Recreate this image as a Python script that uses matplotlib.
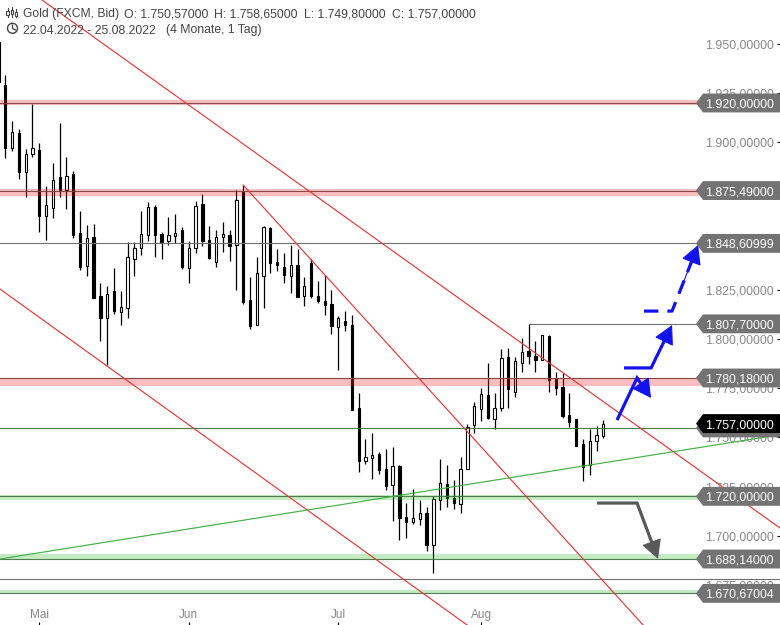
import matplotlib
matplotlib.use("Agg")
import matplotlib.pyplot as plt
from matplotlib.patches import Polygon, Circle, Rectangle
from matplotlib.transforms import Affine2D, blended_transform_factory
from matplotlib.lines import Line2D

opens = [1951.0,1929.1,1897.1,1904.7,1884.9,1894.1,1896.1,1862.6,1866.6,1882.4,
         1875.8,1883.9,1853.9,1837.1,1851.9,1821.9,1810.7,1824.4,1813.7,1815.8,
         1840.7,1846.3,1852.9,1867.1,1853.4,1849.8,1852.4,1855.4,1836.1,1846.3,
         1868.6,1850.3,1839.2,1851.9,1852.9,1847.8,1874.7,1819.8,1807.1,1832.0,
         1856.4,1839.2,1836.6,1832.0,1837.6,1821.9,1838.6,1821.9,1819.3,1817.8,
         1806.1,1809.2,1807.1,1764.9,1738.0,1739.5,1741.5,1733.9,1725.8,1735.4,
         1709.5,1707.0,1708.5,1711.5,1695.3,1718.2,1726.3,1719.2,1716.1,1733.9,
         1756.3,1764.4,1771.5,1759.3,1764.9,1790.8,1773.1,1787.8,1793.9,1791.4,
         1789.3,1801.5,1779.7,1775.6,1761.4,1759.3,1746.6,1735.9,1748.1,1750.57]
closes = [1930.7,1897.1,1905.3,1884.9,1894.1,1897.1,1862.6,1868.1,1880.8,1875.8,
          1882.9,1852.9,1836.6,1851.4,1820.9,1810.7,1822.9,1814.3,1816.3,1841.7,
          1846.3,1853.4,1867.1,1852.9,1848.8,1852.9,1853.9,1836.6,1846.3,1867.6,
          1849.8,1841.2,1851.9,1853.4,1847.3,1870.7,1818.8,1806.6,1833.6,1857.0,
          1838.6,1837.6,1832.6,1837.6,1821.4,1826.9,1821.9,1819.3,1817.3,1806.6,
          1810.7,1807.1,1763.9,1738.0,1740.0,1741.0,1733.4,1725.3,1735.4,1709.0,
          1707.0,1709.0,1711.5,1695.3,1718.7,1726.8,1719.2,1716.6,1733.9,1755.3,
          1765.9,1772.0,1759.8,1764.9,1790.3,1774.6,1788.8,1793.4,1791.4,1789.3,
          1802.0,1779.2,1775.1,1760.9,1757.8,1745.6,1734.9,1748.1,1751.2,1757.0]
highs = [1951.0,1934.2,1910.9,1906.8,1896.6,1919.5,1899.7,1877.8,1889.5,1909.8,
         1892.5,1885.4,1865.1,1858.0,1858.5,1828.5,1826.9,1836.1,1824.4,1849.3,
         1849.3,1865.1,1869.7,1868.1,1854.4,1862.0,1863.6,1857.0,1849.8,1870.2,
         1873.7,1857.5,1855.4,1859.5,1855.4,1875.8,1878.3,1831.5,1841.7,1857.5,
         1857.0,1845.8,1843.7,1847.8,1845.8,1831.5,1840.7,1829.5,1832.6,1824.9,
         1811.7,1814.3,1812.2,1772.6,1749.2,1752.2,1742.6,1744.1,1745.1,1735.9,
         1716.6,1723.7,1718.2,1714.6,1720.2,1739.0,1735.9,1728.3,1740.0,1756.8,
         1767.9,1775.1,1787.8,1772.6,1794.9,1795.4,1790.8,1800.5,1807.6,1799.0,
         1802.0,1802.0,1783.2,1782.7,1772.6,1759.3,1749.2,1754.2,1755.8,1758.65]
lows = [1930.7,1892.0,1895.6,1881.4,1872.2,1892.5,1854.4,1850.3,1861.5,1872.2,
        1866.1,1851.4,1835.1,1832.0,1820.9,1799.0,1786.8,1812.7,1807.1,1810.7,
        1832.0,1842.7,1849.8,1841.7,1840.7,1847.8,1848.8,1835.6,1828.5,1843.7,
        1847.3,1840.7,1836.6,1844.2,1839.7,1824.9,1817.8,1805.1,1807.1,1815.8,
        1833.6,1834.6,1828.5,1823.4,1821.4,1816.8,1820.9,1818.3,1812.2,1802.6,
        1784.2,1804.1,1763.9,1732.4,1736.5,1728.8,1731.4,1723.2,1707.5,1697.8,
        1698.8,1706.0,1705.5,1692.2,1681.0,1713.1,1714.6,1713.6,1711.5,1733.9,
        1752.2,1758.3,1759.3,1754.2,1763.4,1764.9,1770.5,1783.2,1787.3,1783.2,
        1789.3,1773.1,1771.5,1759.8,1755.3,1745.6,1727.8,1730.9,1743.1,1749.80]

month_positions = [6, 28, 50, 71]
month_labels = ["Mai", "Jun", "Jul", "Aug"]

price_ticks = [1950, 1925, 1900, 1875, 1850, 1825, 1800, 1775, 1750, 1725, 1700, 1675]
price_labels = ["1.950,00000", "1.925,00000", "1.900,00000", "1.875,00000", "1.850,00000",
                "1.825,00000", "1.800,00000", "1.775,00000", "1.750,00000", "1.725,00000",
                "1.700,00000", "1.675,00000"]

red_levels = [(1920.0, 1919.0, 1921.5), (1875.49, 1872.5, 1876.5), (1780.18, 1776.0, 1780.18)]
green_levels = [(1755.0, 1754.0, 1755.0), (1720.0, 1718.0, 1720.5),
                (1688.14, 1688.14, 1690.8), (1670.67, 1670.67, 1672.2)]
grey_levels = [1848.60999, 1677.8]
resistance_level = 1807.7
resistance_start = 78

trend_red = [((6.4, 1972.37), (115.0, 1703.9)),
             ((36.0, 1878.3), (94.85, 1654.6)),
             ((0.22, 1825.4), (68.95, 1654.6))]
trend_green = ((0.22, 1688.15), (113.83, 1750.7))

blue_down = [(91.02, 1758.8), (93.96, 1780.2), (96.03, 1770.0)]
blue_up = [(92.05, 1785.3), (96.03, 1785.3), (99.12, 1807.1)]
blue_dash = [(94.99, 1814.2), (99.12, 1814.2), (102.95, 1847.8)]
grey_down = [(88.08, 1716.6), (93.96, 1716.6), (97.05, 1688.2)]

badge_values = [1920.0, 1875.49, 1848.60999, 1807.7, 1780.18, 1754.8, 1720.0, 1688.14, 1670.67004]
badge_texts = ["1.920,00000", "1.875,49000", "1.848,60999", "1.807,70000", "1.780,18000", "",
               "1.720,00000", "1.688,14000", "1.670,67004"]
current_value = 1757.0
current_text = "1.757,00000"

plt.rcParams["font.family"] = ["Liberation Sans", "DejaVu Sans"]
fig = plt.figure(figsize=(7.8, 6.25), dpi=100)
ax = fig.add_axes([0, 0, 1, 1])
ax.set_xlim(0.22, 115.0)
ax.set_ylim(1654.59, 1972.37)
for s in ax.spines.values():
    s.set_visible(False)

xs = list(range(len(opens)))
ax.vlines(xs, lows, highs, color="black", lw=0.9, zorder=2)
for i, (o, c) in enumerate(zip(opens, closes)):
    down = c < o
    ax.bar(i, abs(c - o), bottom=min(o, c), width=0.34,
           facecolor="black" if down else "white", edgecolor="black", lw=0.8, zorder=2.2)

for lvl, lo, hi in red_levels:
    ax.axhspan(lo, hi, color="#ee2222", alpha=0.29, lw=0, zorder=3)
    ax.axhline(lvl, color="#7a3c3c", lw=0.8, alpha=0.9, zorder=3.1)
for lvl, lo, hi in green_levels:
    ax.axhspan(lo, hi, color="#33c033", alpha=0.29, lw=0, zorder=3)
    ax.axhline(lvl, color="#3f6f3f", lw=0.8, alpha=0.9, zorder=3.1)
for lvl in grey_levels:
    ax.axhline(lvl, color="#707070", lw=0.8, zorder=3.1)
ax.plot([resistance_start, 115], [resistance_level] * 2, color="#707070", lw=0.8, zorder=3.1)

for a, b in trend_red:
    ax.plot([a[0], b[0]], [a[1], b[1]], color="#e23a3a", lw=0.85, zorder=3.5)
ax.plot([trend_green[0][0], trend_green[1][0]], [trend_green[0][1], trend_green[1][1]],
        color="#45b045", lw=0.85, zorder=3.5)

def arrow(points, color, dashed=False):
    ls = (0, (4.5, 2.8)) if dashed else "-"
    (x0, y0), (x1, y1), (x2, y2) = points
    ax.plot([x0, x1, x1 + 0.8 * (x2 - x1)], [y0, y1, y1 + 0.8 * (y2 - y1)], color=color, lw=2.3, ls=ls,
            solid_capstyle="butt", solid_joinstyle="miter", dash_capstyle="butt", zorder=4)
    tail = (x2 - 0.6 * (x2 - x1), y2 - 0.6 * (y2 - y1))
    ax.annotate("", xy=points[2], xytext=tail, zorder=4,
                arrowprops=dict(arrowstyle="-|>,head_length=0.5,head_width=0.27", color=color, lw=0.8,
                                mutation_scale=24, shrinkA=0, shrinkB=0))

arrow(blue_down, "#1212ee")
arrow(blue_up, "#1212ee")
arrow(blue_dash, "#1212ee", True)
arrow(grey_down, "#595959")

ax.yaxis.tick_right()
ax.set_yticks(price_ticks, price_labels)
ax.tick_params(axis="y", direction="in", length=2.2, width=0.8, pad=-4.3, labelsize=8.95,
               labelcolor="#8a8a8a", color="black")
for t in ax.get_yticklabels():
    t.set_ha("right")
    t.set_va("center_baseline")
ax.set_xticks(month_positions, month_labels)
ax.tick_params(axis="x", direction="in", length=2.2, width=0.8, pad=-11.5, labelsize=8.5,
               labelcolor="#888888", color="black")

bt = blended_transform_factory(ax.transAxes, ax.transData)
def badge(v, txt, color, z):
    h = 4.8
    l, m, r = 696 / 780, 703 / 780, 1.0
    ax.add_patch(Polygon([(l, v), (m, v + h), (r, v + h), (r, v - h), (m, v - h)],
                         closed=True, transform=bt, facecolor=color, edgecolor="none", zorder=z, clip_on=False))
    if txt:
        ax.text(739 / 780, v, txt, transform=bt, color="white", fontsize=8.95,
                ha="center", va="center_baseline", zorder=z + 0.1)

for v, txt in zip(badge_values, badge_texts):
    badge(v, txt, "#737373", 6)
badge(current_value, current_text, "#000000", 7)

px = Affine2D().scale(1, -1).translate(0, 625)
hc = "#444444"
for x, y, s, fs in [(23, 13, "Gold (FXCM, Bid)", 8.7), (124, 13, "O: 1.750,57000", 8.8), (214, 13, "H: 1.758,65000", 8.8),
                    (304, 13, "L: 1.749,80000", 8.8), (392.5, 13, "C: 1.757,00000", 8.8),
                    (23, 29, "22.04.2022 - 25.08.2022", 8.85), (166, 29, "(4 Monate, 1 Tag)", 8.8)]:
    ax.text(x, y, s, transform=px, fontsize=fs, color=hc, ha="left", va="center_baseline", zorder=8)
for cx, w0, w1, b0, b1 in [(7.5, 8, 17, 11, 15), (11.8, 7, 17, 10, 14), (16, 9, 17, 12, 16)]:
    ax.add_line(Line2D([cx, cx], [w0, w1], transform=px, color=hc, lw=0.8, zorder=8))
    ax.add_patch(Rectangle((cx - 1.2, b0), 2.4, b1 - b0, transform=px, facecolor="white", edgecolor=hc, lw=0.8, zorder=8.1))
ax.add_patch(Circle((12.5, 28.3), 5, transform=px, facecolor="none", edgecolor=hc, lw=1.0, zorder=8))
ax.add_line(Line2D([12.5, 12.5, 15.5], [25, 28.5, 30], transform=px, color=hc, lw=0.9, zorder=8))

fig.savefig("out.png", dpi=100)
